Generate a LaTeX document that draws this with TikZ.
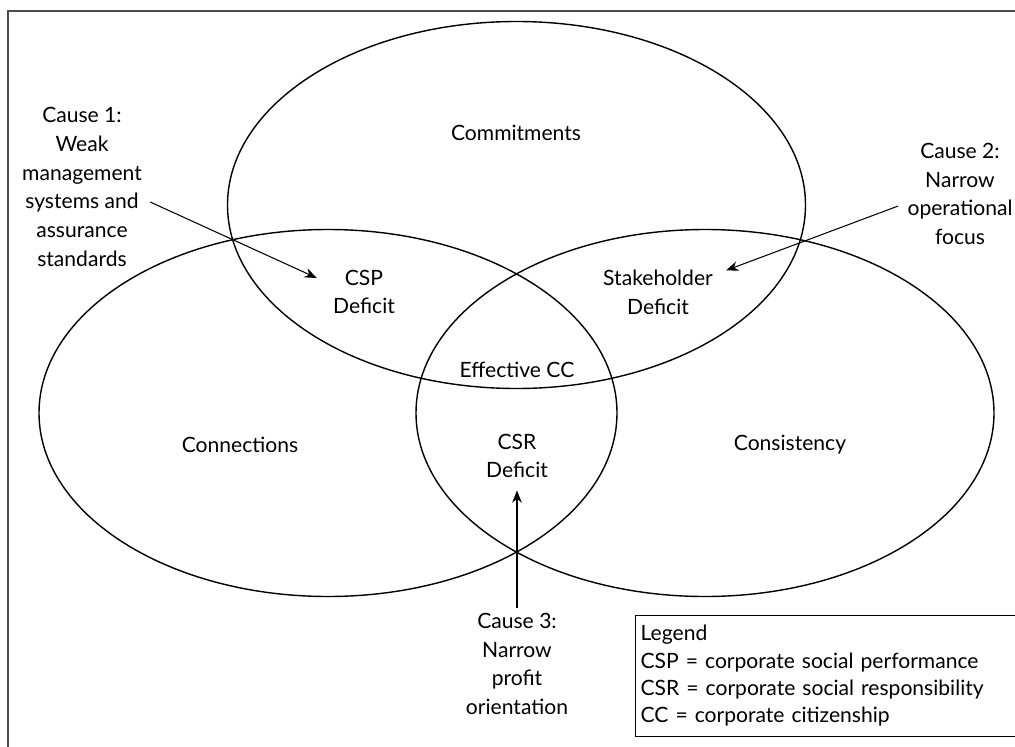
\documentclass[tikz,border=0pt]{standalone}
\usepackage{fontspec}
\setmainfont{Lato}
\usetikzlibrary{arrows.meta}
\begin{document}
\begin{tikzpicture}
    [x=0.02cm,y=-0.02cm,font=\fontsize{12}{16.4}\selectfont,inner sep=0pt,
     set/.style={line width=0.8pt},
     cause/.style={align=center},
     pointer/.style={-{Stealth[length=7pt,width=5.5pt]},line width=0.6pt}]
    \useasboundingbox (0,0) rectangle (1015,747);
    \draw [line width=1.1pt,black!70] (8,747) |- (1015,11);
    % the three sets
    \draw [set] (516.5,205) ellipse [x radius=289,y radius=183.5];
    \draw [set] (328,413) ellipse [x radius=289,y radius=183.5];
    \draw [set] (705,413) ellipse [x radius=289,y radius=183.5];
    \node (commitments) at (516,133) {Commitments};
    \node (connections) at (240,445) {Connections};
    \node (consistency) at (790,445) {Consistency};
    \node (csp) at (364,292) [cause] {CSP\\Deficit};
    \node (stake) at (658,292) [cause] {Stakeholder\\Deficit};
    \node (effective) at (517,370) {Effective CC};
    \node (csr) at (517,456) [cause] {CSR\\Deficit};
    % causes
    \node (cause1) at (82,187) [cause] {Cause 1:\\Weak\\management\\systems and\\assurance\\standards};
    \node (cause2) at (960,194) [cause] {Cause 2:\\Narrow\\operational\\focus};
    \node (cause3) at (517,664) [cause] {Cause 3:\\Narrow\\profit\\orientation};
    \draw [pointer] ([shift={(8,15)}]cause1.east) to ([shift={(-16,-14)}]csp.west);
    \draw [pointer] ([shift={(-9,12)}]cause2.west) to ([shift={(13,1)}]stake.north east);
    \draw [pointer] ([shift={(0,-5)}]cause3.north) to ([shift={(0,12)}]csr.south);
    % legend
    \node (legend) at (635,615) [draw,anchor=north west,align=left,
      text width=7.6cm,inner xsep=3pt,inner ysep=5.6pt,
      font=\fontsize{12}{15.6}\selectfont]
      {Legend\\CSP = corporate social performance\\CSR = corporate social responsibility\\CC = corporate citizenship};
\end{tikzpicture}
\end{document}
